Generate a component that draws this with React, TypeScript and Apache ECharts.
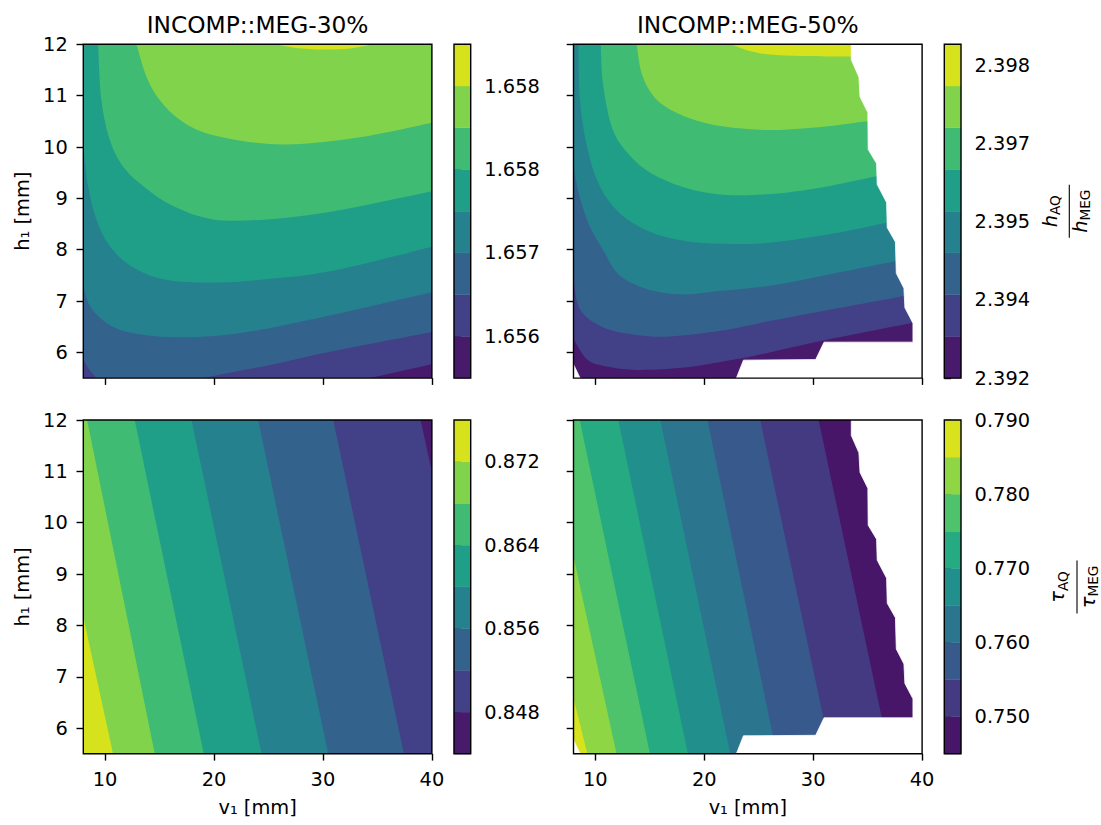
import React, { useEffect, useRef } from 'react';
import * as echarts from 'echarts';

// ---------- axes & labels ----------
const X_RANGE = [8, 40];
const Y_RANGE = [5.5, 12];
const xTicks = [10, 20, 30, 40];
const yTicks = [6, 7, 8, 9, 10, 11, 12];
const titles = ['INCOMP::MEG-30%', 'INCOMP::MEG-50%'];
const xName = 'v₁ [mm]';
const yName = 'h₁ [mm]';

// ---------- colours (viridis, one per filled band) ----------
const colors8 = ['#481a6c', '#424086', '#33638d', '#26818e', '#209f88', '#3fbb74', '#82d34c', '#d5e21c'];
const colors9 = ['#471668', '#443a82', '#38598c', '#2b758e', '#21908d', '#25aa82', '#4fc36b', '#8fd644', '#d9e31d'];

// ---------- colour-bar levels / ticks ----------
const h30Levels = [1.6561, 1.6564, 1.6567, 1.657, 1.6573, 1.6576, 1.6579, 1.6582, 1.6585];
const h30Ticks = [1.6564, 1.657, 1.6576, 1.6582];
const h30TickLabels = ['1.656', '1.657', '1.658', '1.658'];

const h50Levels = [2.392, 2.3928, 2.3936, 2.3944, 2.3952, 2.396, 2.3968, 2.3976, 2.3984];
const h50Ticks = [2.392, 2.3935, 2.395, 2.3965, 2.398];
const h50TickLabels = ['2.392', '2.394', '2.395', '2.397', '2.398'];

const t30Levels = [0.844, 0.848, 0.852, 0.856, 0.86, 0.864, 0.868, 0.872, 0.876];
const t30Ticks = [0.848, 0.856, 0.864, 0.872];
const t30TickLabels = ['0.848', '0.856', '0.864', '0.872'];

const t50Levels = [0.745, 0.75, 0.755, 0.76, 0.765, 0.77, 0.775, 0.78, 0.785, 0.79];
const t50Ticks = [0.75, 0.76, 0.77, 0.78, 0.79];
const t50TickLabels = ['0.750', '0.760', '0.770', '0.780', '0.790'];

// ---------- contour lines (v1 [mm], h1 [mm]) : edge of each level's region ----------
// MEG-30 %, h ratio (high side above)
const h30_c1 = [[34.3, 5.5], [37, 5.63], [40, 5.77]];
const h30_c2 = [[8, 5.87], [8.5, 5.68], [9.2, 5.5], [19, 5.5], [22, 5.63], [25, 5.75], [31, 6.03], [40, 6.4]];
const h30_c3 = [[8, 7.3], [8.5, 6.95], [9.5, 6.68], [11, 6.47], [13, 6.36], [16, 6.3], [20, 6.32], [24, 6.43], [28, 6.6], [34, 6.88], [40, 7.17]];
const h30_c4 = [[8, 10.01], [8.44, 9.24], [9.2, 8.59], [10.43, 8.07], [12.4, 7.68], [15.5, 7.42], [19.9, 7.36], [24.5, 7.42], [30.9, 7.59], [40, 8.06]];
const h30_c5 = [[9.36, 12], [9.66, 10.92], [10.43, 10.14], [11.65, 9.62], [13.49, 9.24], [16.24, 8.85], [19.92, 8.59], [24.81, 8.59], [30.94, 8.75], [40, 9.14]];
const h30_c6 = [[12.88, 12], [13.8, 11.37], [15, 10.92], [16.86, 10.53], [19.3, 10.27], [23.6, 10.09], [27.9, 10.06], [34, 10.21], [40, 10.47]];
const h30_c7 = [[25.7, 12], [27.5, 11.93], [30, 11.9], [32.5, 11.92], [34.7, 12]];

// MEG-50 %, h ratio (high side above)
const h50_c1 = [[8, 6.26], [9.2, 5.87], [10.7, 5.74], [13.8, 5.66], [18.4, 5.71], [23, 5.87], [26, 6.0], [32, 6.28], [39.2, 6.58], [40, 6.62]];
const h50_c2 = [[8, 7.45], [8.6, 6.84], [10.7, 6.49], [13.8, 6.34], [16.9, 6.31], [21.5, 6.42], [26, 6.61], [32, 6.85], [38.3, 7.1], [40, 7.2]];
const h50_c3 = [[8, 9.6], [8.6, 9.0], [9.5, 8.45], [10.7, 8.0], [12.3, 7.49], [15.3, 7.2], [18.4, 7.13], [21.5, 7.2], [26, 7.3], [31, 7.5], [37.6, 7.78], [40, 7.88]];
const h50_c4 = [[8.45, 12], [8.6, 10.9], [9.3, 9.95], [10.5, 9.2], [12.4, 8.68], [15, 8.35], [18, 8.18], [21, 8.12], [25, 8.12], [29, 8.22], [33, 8.36], [37.5, 8.56], [40, 8.65]];
const h50_c5 = [[10.5, 12], [10.7, 11.24], [11.5, 10.4], [12.7, 9.95], [14.6, 9.56], [17.2, 9.28], [20, 9.12], [23, 9.06], [27, 9.1], [31, 9.22], [35.8, 9.43], [40, 9.6]];
const h50_c6 = [[13.8, 12], [14.3, 11.4], [15.5, 10.95], [17.5, 10.66], [20, 10.47], [22.5, 10.38], [26, 10.33], [29, 10.36], [32, 10.42], [35, 10.5], [40, 10.6]];
const h50_c7 = [[22.5, 12], [24, 11.88], [26, 11.8], [29, 11.77], [33, 11.76], [40, 11.76]];

// MEG-30 %, tau ratio (high side left)
const t30_c1 = [[38.96, 12], [40, 10.99]];
const t30_c2 = [[30.94, 12], [37.43, 5.5]];
const t30_c3 = [[24.05, 12], [30.48, 5.5]];
const t30_c4 = [[17.93, 12], [24.36, 5.5]];
const t30_c5 = [[12.72, 12], [19.06, 5.5]];
const t30_c6 = [[8.35, 12], [14.56, 5.5]];
const t30_c7 = [[8, 8.17], [10.73, 5.5]];

// MEG-50 %, tau ratio (high side left)
const t50_c1 = [[30.5, 12], [37.0, 5.5]];
const t50_c2 = [[25.14, 12], [31.64, 5.5]];
const t50_c3 = [[20.3, 12], [26.65, 5.5]];
const t50_c4 = [[15.97, 12], [22.39, 5.5]];
const t50_c5 = [[12.11, 12], [18.5, 5.5]];
const t50_c6 = [[8.57, 12], [15.02, 5.5]];
const t50_c7 = [[8, 9.34], [11.95, 5.5]];
const t50_c8 = [[8, 6.58], [9.27, 5.5]];

// region where MEG-50 % has no data
const meg50Invalid = [[33.5, 12], [33.5, 11.7], [34.2, 11.36], [34.3, 10.98], [35.02, 10.67], [35.05, 9.95], [35.82, 9.68], [35.88, 9.27], [36.74, 8.92], [36.8, 8.43], [37.55, 8.15], [37.63, 7.54], [38.33, 7.25], [38.42, 6.87], [39.16, 6.57], [39.16, 6.2], [31.0, 6.2], [30.23, 5.86], [23.6, 5.85], [22.95, 5.5], [40, 5.5], [40, 12]];
const meg50InvalidCorner = [[8, 5.77], [8, 5.5], [8.6, 5.5]];

// ---------- layout ----------
const FONT = 'DejaVu Sans';
const FS = 19.4;
const plotLefts = [83.3, 573.5];
const rowTops = [44.3, 420];
const plotW = 348.6;
const plotH = 333.8;
const cbLefts = [454, 944.3];
const cbW = 16.7;

function onBoundary(p: number[]) {
  const e = 1e-9;
  return Math.abs(p[0] - X_RANGE[0]) < e || Math.abs(p[0] - X_RANGE[1]) < e || Math.abs(p[1] - Y_RANGE[0]) < e || Math.abs(p[1] - Y_RANGE[1]) < e;
}
function perim(p: number[]) {
  const [x0, x1] = X_RANGE, [y0, y1] = Y_RANGE;
  const [x, y] = p, e = 1e-9;
  if (Math.abs(y - y0) < e) return (x - x0) / (x1 - x0);
  if (Math.abs(x - x1) < e) return 1 + (y - y0) / (y1 - y0);
  if (Math.abs(y - y1) < e) return 2 + (x1 - x) / (x1 - x0);
  return 3 + (y1 - y) / (y1 - y0);
}
function corner(k: number) {
  const [x0, x1] = X_RANGE, [y0, y1] = Y_RANGE;
  const kk = ((k % 4) + 4) % 4;
  return [[x0, y0], [x1, y0], [x1, y1], [x0, y1]][kk];
}
function closingCorners(path: number[][], ccw: boolean) {
  const tS = perim(path[0]);
  const tE = perim(path[path.length - 1]);
  const pts: number[][] = [];
  if (ccw) {
    const target = tS <= tE ? tS + 4 : tS;
    for (let k = Math.floor(tE) + 1; k < target; k++) pts.push(corner(k));
  } else {
    const target = tS >= tE ? tS - 4 : tS;
    for (let k = Math.ceil(tE) - 1; k > target; k--) pts.push(corner(k));
  }
  return pts;
}

// smooth curve through the contour points (pixel space), straight along plot edges and corners
function regionPath(contour: number[][], corners: number[][], api: any) {
  const px = contour.map((p) => api.coord(p));
  const onB = contour.map(onBoundary);
  const n = px.length;
  const f = (v: number) => v.toFixed(2);
  let d = `M${f(px[0][0])},${f(px[0][1])}`;
  const straight = (i: number) => onB[i] && onB[i + 1];
  for (let i = 0; i < n - 1; i++) {
    const p0 = px[i], p1 = px[i + 1];
    if (straight(i)) { d += `L${f(p1[0])},${f(p1[1])}`; continue; }
    const pm = i > 0 && !straight(i - 1) ? px[i - 1] : p0;
    const p2 = i + 2 < n && !straight(i + 1) ? px[i + 2] : p1;
    const c1 = [p0[0] + (p1[0] - pm[0]) / 6, p0[1] + (p1[1] - pm[1]) / 6];
    const c2 = [p1[0] - (p2[0] - p0[0]) / 6, p1[1] - (p2[1] - p0[1]) / 6];
    d += `C${f(c1[0])},${f(c1[1])} ${f(c2[0])},${f(c2[1])} ${f(p1[0])},${f(p1[1])}`;
  }
  corners.forEach((c) => { const q = api.coord(c); d += `L${f(q[0])},${f(q[1])}`; });
  return d + 'Z';
}

const panels = [
  { contours: [h30_c1, h30_c2, h30_c3, h30_c4, h30_c5, h30_c6, h30_c7], colors: colors8, ccw: true, masks: [] as number[][][] },
  { contours: [h50_c1, h50_c2, h50_c3, h50_c4, h50_c5, h50_c6, h50_c7], colors: colors8, ccw: true, masks: [meg50Invalid, meg50InvalidCorner] },
  { contours: [t30_c1, t30_c2, t30_c3, t30_c4, t30_c5, t30_c6, t30_c7], colors: colors8, ccw: false, masks: [] as number[][][] },
  { contours: [t50_c1, t50_c2, t50_c3, t50_c4, t50_c5, t50_c6, t50_c7, t50_c8], colors: colors9, ccw: false, masks: [meg50Invalid, meg50InvalidCorner] },
];
const colorbars = [
  { levels: h30Levels, ticks: h30Ticks, labels: h30TickLabels, colors: colors8 },
  { levels: h50Levels, ticks: h50Ticks, labels: h50TickLabels, colors: colors8 },
  { levels: t30Levels, ticks: t30Ticks, labels: t30TickLabels, colors: colors8 },
  { levels: t50Levels, ticks: t50Ticks, labels: t50TickLabels, colors: colors9 },
];

const tickStyle = { color: '#000', width: 1.4 };
const labelStyle = { fontFamily: FONT, fontSize: FS, color: '#000' };

function panelSeries(p: any, i: number) {
  const [x0, x1] = X_RANGE, [y0, y1] = Y_RANGE;
  const shapes: any[] = [];
  shapes.push({ poly: [[x0, y0], [x1, y0], [x1, y1], [x0, y1]], fill: p.colors[0] });
  p.contours.forEach((c: number[][], k: number) => shapes.push({ contour: c, corners: closingCorners(c, p.ccw), fill: p.colors[k + 1] }));
  p.masks.forEach((m: number[][]) => shapes.push({ poly: m, fill: '#ffffff', mask: true }));
  return {
    type: 'custom',
    xAxisIndex: i,
    yAxisIndex: i,
    clip: true,
    silent: true,
    data: shapes.map(() => [x0, y0]),
    renderItem: (params: any, api: any) => {
      const s = shapes[params.dataIndex];
      if (s.contour) {
        return { type: 'path', z2: params.dataIndex, shape: { pathData: regionPath(s.contour, s.corners, api) }, style: { fill: s.fill } };
      }
      return {
        type: 'polygon',
        z2: params.dataIndex,
        shape: { points: s.poly.map((pt: number[]) => api.coord(pt)) },
        style: s.mask ? { fill: s.fill, stroke: '#ffffff', lineWidth: 0.8 } : { fill: s.fill },
      };
    },
  };
}

function frameSeries(i: number, xr: number[], yr: number[]) {
  return {
    type: 'custom', xAxisIndex: i, yAxisIndex: i, clip: false, silent: true, z: 5,
    data: [[xr[0], yr[0]]],
    renderItem: (_params: any, api: any) => {
      const a = api.coord([xr[0], yr[1]]);
      const b = api.coord([xr[1], yr[0]]);
      return { type: 'rect', shape: { x: a[0], y: a[1], width: b[0] - a[0], height: b[1] - a[1] }, style: { fill: 'none', stroke: '#000', lineWidth: 1.4 } };
    },
  };
}

function cbSeries(cb: any, i: number) {
  const n = cb.colors.length;
  return {
    type: 'custom',
    xAxisIndex: i,
    yAxisIndex: i,
    clip: false,
    silent: true,
    data: Array.from({ length: n }, () => [0, cb.levels[0]]),
    renderItem: (params: any, api: any) => {
      const k = params.dataIndex;
      const a = api.coord([0, cb.levels[k + 1]]);
      const b = api.coord([1, cb.levels[k]]);
      return { type: 'rect', z2: k, shape: { x: a[0], y: a[1], width: b[0] - a[0], height: b[1] - a[1] }, style: { fill: cb.colors[k], stroke: cb.colors[k], lineWidth: 0.4 } };
    },
  };
}

function fraction(x: number, y: number, sym: string, symW: number) {
  const subFS = 13.6;
  const wAQ = 20, wMEG = 30.9;
  const numStart = -(symW + wAQ) / 2;
  const denStart = -(symW + wMEG) / 2;
  const t = (text: string, xx: number, yy: number, fs: number, italic: boolean) => ({
    type: 'text', x: xx, y: yy,
    style: { text, fontSize: fs, fontFamily: FONT, fontStyle: italic ? 'italic' : 'normal', fill: '#000', align: 'left', verticalAlign: 'middle' },
  });
  return {
    type: 'group', x, y, rotation: Math.PI / 2, silent: true,
    children: [
      { type: 'line', shape: { x1: -26.5, y1: 0, x2: 26.5, y2: 0 }, style: { stroke: '#000', lineWidth: 1.1 } },
      t(sym, numStart, -19.2, FS, true),
      t('AQ', numStart + symW, -14.2, subFS, false),
      t(sym, denStart, 11.0, FS, true),
      t('MEG', denStart + symW, 16.0, subFS, false),
    ],
  };
}

function buildOption() {
  const grids: any[] = [];
  const xAxes: any[] = [];
  const yAxes: any[] = [];
  const series: any[] = [];
  for (let r = 0; r < 2; r++) {
    for (let c = 0; c < 2; c++) {
      const i = r * 2 + c;
      grids[i] = { left: plotLefts[c], top: rowTops[r], width: plotW, height: plotH, outerBoundsMode: 'none', containLabel: false };
      xAxes[i] = {
        type: 'value', gridIndex: i, min: X_RANGE[0], max: X_RANGE[1],
        axisLine: { show: false }, splitLine: { show: false },
        axisTick: { show: true, length: 6.8, lineStyle: tickStyle, customValues: xTicks },
        axisLabel: { show: r === 1, customValues: xTicks, margin: 16.5, ...labelStyle },
      };
      yAxes[i] = {
        type: 'value', gridIndex: i, min: Y_RANGE[0], max: Y_RANGE[1],
        axisLine: { show: false }, splitLine: { show: false },
        axisTick: { show: true, length: 6.8, lineStyle: tickStyle, customValues: yTicks },
        axisLabel: { show: c === 0, customValues: yTicks, margin: 15.5, ...labelStyle },
      };
      series.push(panelSeries(panels[i], i));
      series.push(frameSeries(i, X_RANGE, Y_RANGE));
    }
  }
  for (let r = 0; r < 2; r++) {
    for (let c = 0; c < 2; c++) {
      const j = r * 2 + c;
      const i = 4 + j;
      const cb = colorbars[j];
      grids[i] = { left: cbLefts[c], top: rowTops[r], width: cbW, height: plotH, outerBoundsMode: 'none', containLabel: false };
      xAxes[i] = { type: 'value', gridIndex: i, min: 0, max: 1, show: false };
      yAxes[i] = {
        type: 'value', gridIndex: i, position: 'right', min: cb.levels[0], max: cb.levels[cb.levels.length - 1],
        axisLine: { show: false }, splitLine: { show: false },
        axisTick: { show: true, length: 6.8, lineStyle: tickStyle, customValues: cb.ticks },
        axisLabel: {
          customValues: cb.ticks, margin: 13.6, ...labelStyle,
          formatter: (v: number) => {
            const k = cb.ticks.findIndex((t: number) => Math.abs(t - v) < 1e-7);
            return k >= 0 ? cb.labels[k] : '';
          },
        },
      };
      series.push(cbSeries(cb, i));
      series.push(frameSeries(i, [0, 1], [cb.levels[0], cb.levels[cb.levels.length - 1]]));
    }
  }

  const plotCx = plotLefts.map((l) => l + plotW / 2);
  const rowCy = rowTops.map((t) => t + plotH / 2);
  const graphic: any[] = [];
  titles.forEach((tt, c) => graphic.push({
    type: 'text', x: plotCx[c], y: 24, silent: true,
    style: { text: tt, fontSize: 23.3, fontFamily: FONT, fill: '#000', align: 'center', verticalAlign: 'middle' },
  }));
  rowCy.forEach((cy) => graphic.push({
    type: 'text', x: 22, y: cy, rotation: Math.PI / 2, silent: true,
    style: { text: yName, fontSize: FS, fontFamily: FONT, fill: '#000', align: 'center', verticalAlign: 'middle' },
  }));
  plotCx.forEach((cx) => graphic.push({
    type: 'text', x: cx, y: 807, silent: true,
    style: { text: xName, fontSize: FS, fontFamily: FONT, fill: '#000', align: 'center', verticalAlign: 'middle' },
  }));
  graphic.push(fraction(1069.3, rowCy[0], 'h', 12.3));
  graphic.push(fraction(1077, rowCy[1], 'τ', 11.6));

  return {
    animation: false,
    backgroundColor: '#ffffff',
    grid: grids,
    xAxis: xAxes,
    yAxis: yAxes,
    series,
    graphic,
  };
}

export default function App() {
  const ref = useRef<HTMLDivElement>(null);
  useEffect(() => {
    const chart = echarts.init(ref.current as HTMLDivElement, null, { renderer: 'svg' });
    chart.setOption(buildOption() as any);
    return () => chart.dispose();
  }, []);
  return <div ref={ref} style={{ position: 'fixed', left: 0, top: 0, width: 1101, height: 825, background: '#fff' }} />;
}
